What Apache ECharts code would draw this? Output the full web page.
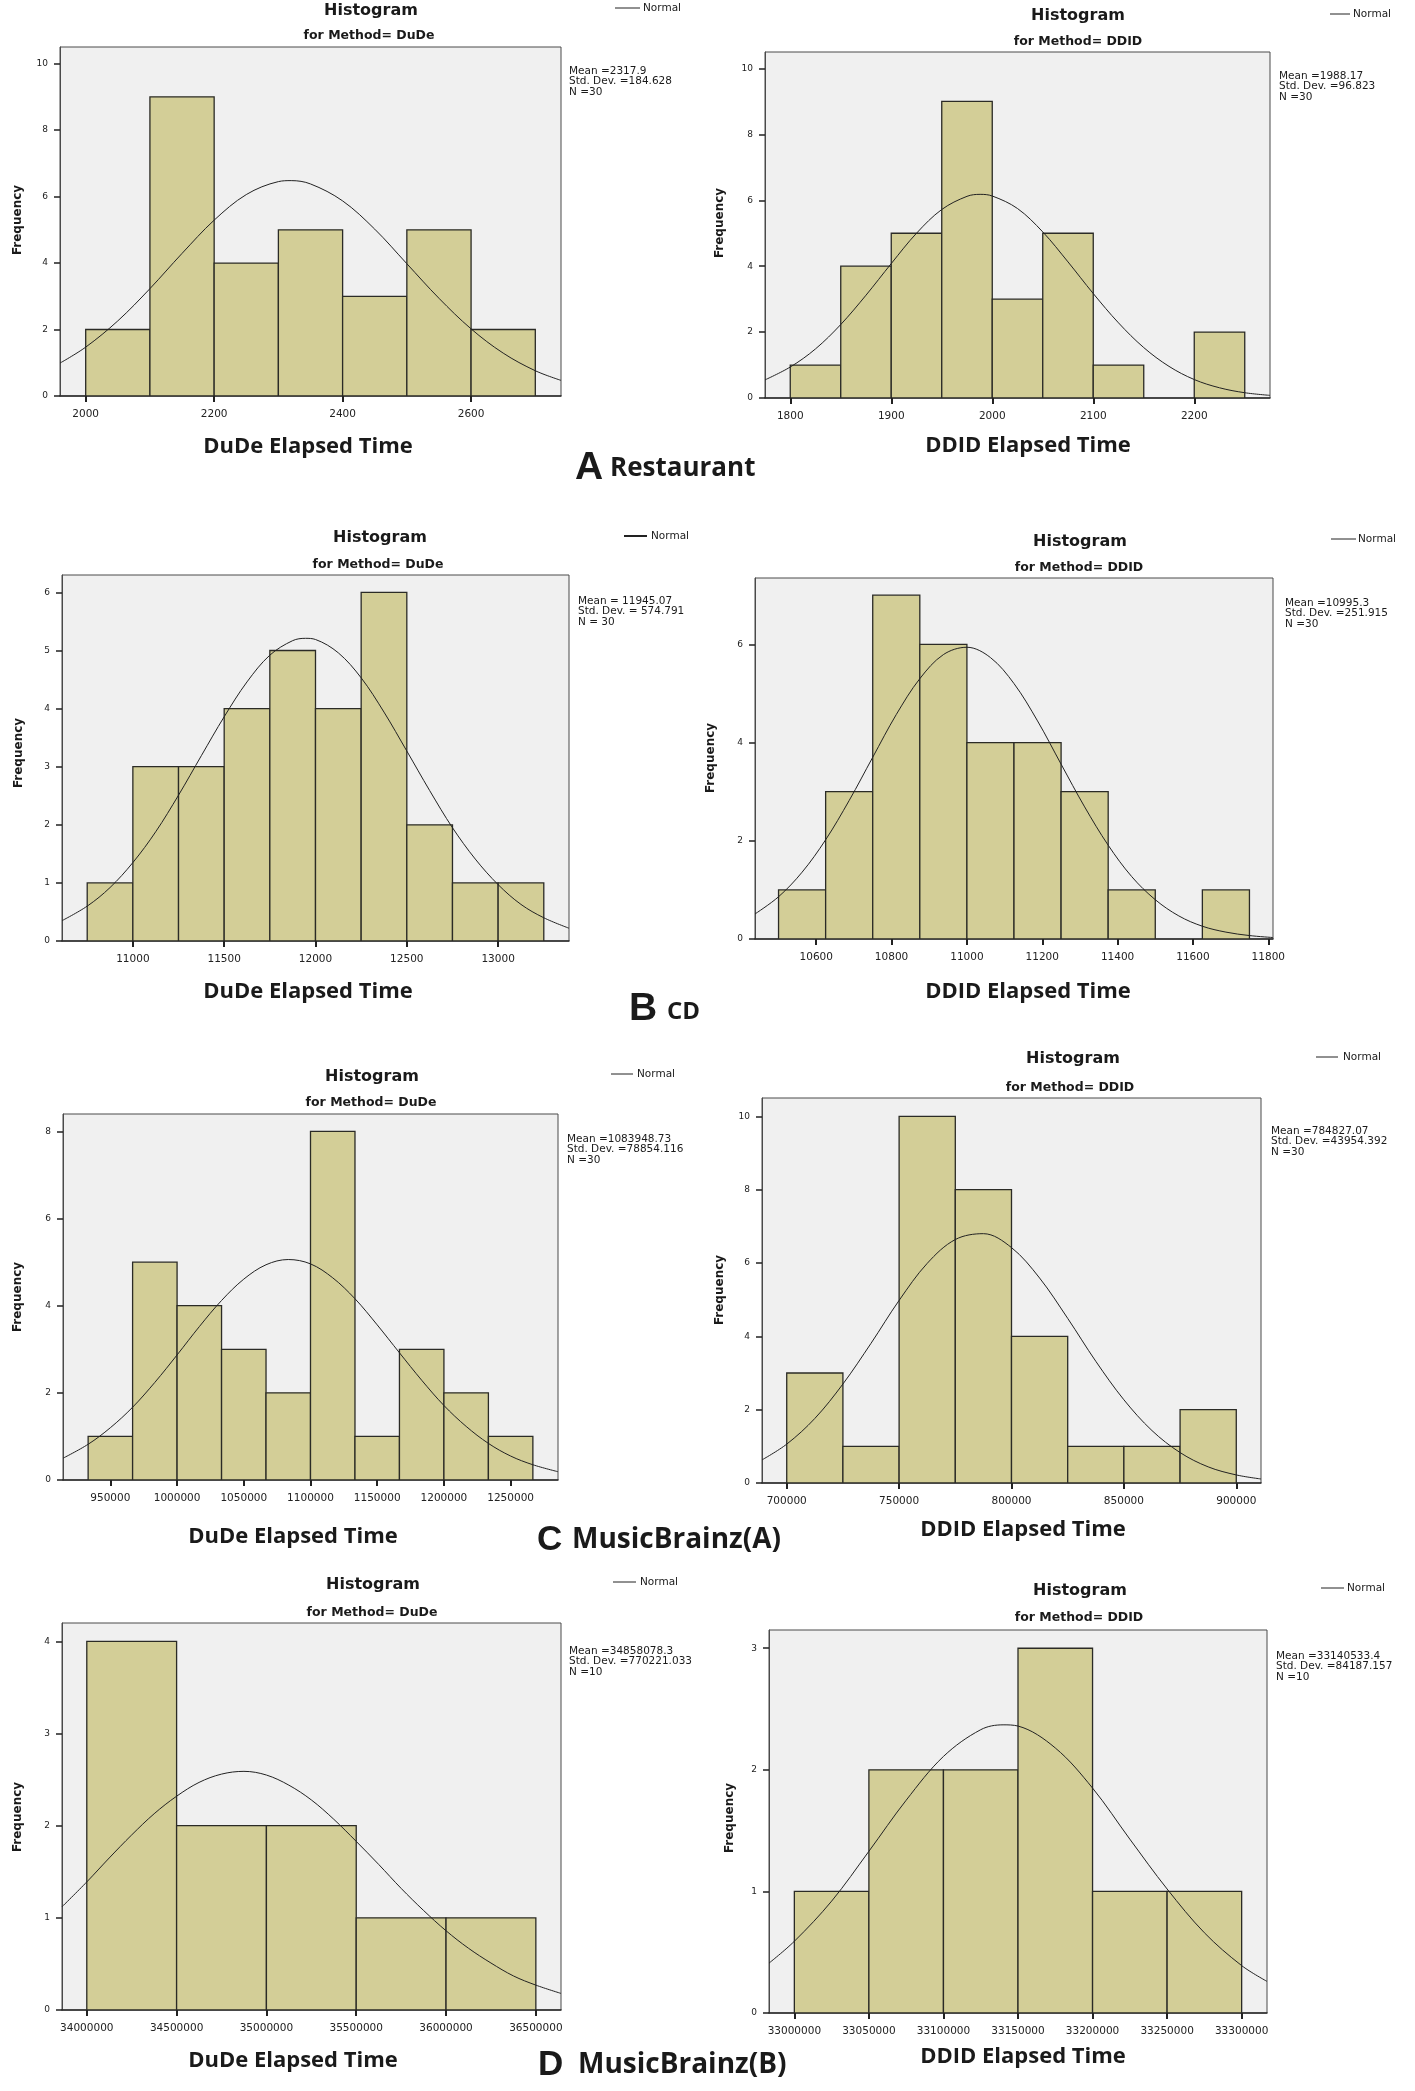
<!DOCTYPE html>
<html><head><meta charset="utf-8">
<script src="https://cdn.jsdelivr.net/npm/echarts@6/dist/echarts.min.js"></script>
<style>html,body{margin:0;padding:0;background:#fff}#chart{width:1415px;height:2091px}</style>
</head><body><div id="chart"></div>
<script>
// ---------------- DATA ----------------
// A Restaurant
const restDudeEdges = [2000, 2100, 2200, 2300, 2400, 2500, 2600, 2700];
const restDudeCounts = [2, 9, 4, 5, 3, 5, 2];
const restDudeCurveX = [1960, 2000, 2050, 2100, 2150, 2200, 2250, 2300, 2320, 2350, 2400, 2450, 2500, 2550, 2600, 2650, 2700, 2740];
const restDudeCurveY = [0.99, 1.47, 2.26, 3.23, 4.29, 5.29, 6.06, 6.45, 6.48, 6.38, 5.87, 5.02, 3.98, 2.94, 2.02, 1.29, 0.76, 0.47];
const restDudeXTicks = [2000, 2200, 2400, 2600];
const restDudeYTicks = [0, 2, 4, 6, 8, 10];
const restDudeStats = ['Mean =2317.9', 'Std. Dev. =184.628', 'N =30'];

const restDdidEdges = [1800, 1850, 1900, 1950, 2000, 2050, 2100, 2150, 2200, 2250];
const restDdidCounts = [1, 4, 5, 9, 3, 5, 1, 0, 2];
const restDdidCurveX = [1775, 1800, 1825, 1850, 1875, 1900, 1925, 1950, 1975, 1988, 2000, 2025, 2050, 2075, 2100, 2125, 2150, 2175, 2200, 2225, 2250, 2275];
const restDdidCurveY = [0.55, 0.94, 1.49, 2.23, 3.12, 4.08, 5.00, 5.72, 6.12, 6.18, 6.13, 5.75, 5.04, 4.13, 3.17, 2.28, 1.53, 0.96, 0.56, 0.31, 0.16, 0.08];
const restDdidXTicks = [1800, 1900, 2000, 2100, 2200];
const restDdidYTicks = [0, 2, 4, 6, 8, 10];
const restDdidStats = ['Mean =1988.17', 'Std. Dev. =96.823', 'N =30'];

// B CD
const cdDudeEdges = [10750, 11000, 11250, 11500, 11750, 12000, 12250, 12500, 12750, 13000, 13250];
const cdDudeCounts = [1, 3, 3, 4, 5, 4, 6, 2, 1, 1];
const cdDudeCurveX = [10612, 10750, 10875, 11000, 11125, 11250, 11375, 11500, 11625, 11750, 11875, 11945, 12000, 12125, 12250, 12375, 12500, 12625, 12750, 12875, 13000, 13125, 13250, 13388];
const cdDudeCurveY = [0.35, 0.60, 0.92, 1.35, 1.88, 2.51, 3.19, 3.86, 4.46, 4.92, 5.17, 5.21, 5.19, 4.96, 4.53, 3.94, 3.27, 2.59, 1.95, 1.41, 0.97, 0.63, 0.40, 0.22];
const cdDudeXTicks = [11000, 11500, 12000, 12500, 13000];
const cdDudeYTicks = [0, 1, 2, 3, 4, 5, 6];
const cdDudeStats = ['Mean = 11945.07', 'Std. Dev. = 574.791', 'N = 30'];

const cdDdidEdges = [10500, 10625, 10750, 10875, 11000, 11125, 11250, 11375, 11500, 11625, 11750];
const cdDdidCounts = [1, 3, 7, 6, 4, 4, 3, 1, 0, 1];
const cdDdidCurveX = [10437.5, 10500, 10562.5, 10625, 10687.5, 10750, 10812.5, 10875, 10937.5, 11000, 11062.5, 11125, 11187.5, 11250, 11312.5, 11375, 11437.5, 11500, 11562.5, 11625, 11687.5, 11750, 11812.5];
const cdDdidCurveY = [0.51, 0.86, 1.36, 2.02, 2.82, 3.70, 4.57, 5.30, 5.79, 5.94, 5.73, 5.20, 4.44, 3.56, 2.69, 1.91, 1.27, 0.80, 0.47, 0.26, 0.14, 0.07, 0.03];
const cdDdidXTicks = [10600, 10800, 11000, 11200, 11400, 11600, 11800];
const cdDdidYTicks = [0, 2, 4, 6];
const cdDdidStats = ['Mean =10995.3', 'Std. Dev. =251.915', 'N =30'];

// C MusicBrainz(A)
const mbaDudeEdges = [933333.33, 966666.67, 1000000, 1033333.33, 1066666.67, 1100000, 1133333.33, 1166666.67, 1200000, 1233333.33, 1266666.67];
const mbaDudeCounts = [1, 5, 4, 3, 2, 8, 1, 3, 2, 1];
const mbaDudeCurveX = [914500, 933333, 950000, 966667, 983333, 1000000, 1016667, 1033333, 1050000, 1066667, 1083333, 1100000, 1116667, 1133333, 1150000, 1166667, 1183333, 1200000, 1216667, 1233333, 1250000, 1266667, 1285500];
const mbaDudeCurveY = [0.50, 0.82, 1.20, 1.67, 2.24, 2.87, 3.52, 4.12, 4.61, 4.94, 5.06, 4.96, 4.64, 4.16, 3.56, 2.92, 2.29, 1.71, 1.23, 0.84, 0.55, 0.35, 0.19];
const mbaDudeXTicks = [950000, 1000000, 1050000, 1100000, 1150000, 1200000, 1250000];
const mbaDudeYTicks = [0, 2, 4, 6, 8];
const mbaDudeStats = ['Mean =1083948.73', 'Std. Dev. =78854.116', 'N =30'];

const mbaDdidEdges = [700000, 725000, 750000, 775000, 800000, 825000, 850000, 875000, 900000];
const mbaDdidCounts = [3, 1, 10, 8, 4, 1, 1, 2];
const mbaDdidCurveX = [689000, 700000, 712500, 725000, 737500, 750000, 762500, 775000, 787500, 800000, 812500, 825000, 837500, 850000, 862500, 875000, 887500, 900000, 911000];
const mbaDdidCurveY = [0.63, 1.06, 1.76, 2.70, 3.81, 4.98, 5.99, 6.64, 6.80, 6.42, 5.59, 4.49, 3.32, 2.27, 1.43, 0.83, 0.44, 0.22, 0.11];
const mbaDdidXTicks = [700000, 750000, 800000, 850000, 900000];
const mbaDdidYTicks = [0, 2, 4, 6, 8, 10];
const mbaDdidStats = ['Mean =784827.07', 'Std. Dev. =43954.392', 'N =30'];

// D MusicBrainz(B)
const mbbDudeEdges = [34000000, 34500000, 35000000, 35500000, 36000000, 36500000];
const mbbDudeCounts = [4, 2, 2, 1, 1];
const mbbDudeCurveX = [33862000, 34000000, 34125000, 34250000, 34375000, 34500000, 34625000, 34750000, 34875000, 35000000, 35125000, 35250000, 35375000, 35500000, 35625000, 35750000, 35875000, 36000000, 36125000, 36250000, 36375000, 36500000, 36640000];
const mbbDudeCurveY = [1.12, 1.39, 1.65, 1.90, 2.13, 2.32, 2.47, 2.56, 2.59, 2.55, 2.44, 2.28, 2.07, 1.83, 1.58, 1.32, 1.08, 0.86, 0.67, 0.51, 0.37, 0.27, 0.18];
const mbbDudeXTicks = [34000000, 34500000, 35000000, 35500000, 36000000, 36500000];
const mbbDudeYTicks = [0, 1, 2, 3, 4];
const mbbDudeStats = ['Mean =34858078.3', 'Std. Dev. =770221.033', 'N =10'];

const mbbDdidEdges = [33000000, 33050000, 33100000, 33150000, 33200000, 33250000, 33300000];
const mbbDdidCounts = [1, 2, 2, 3, 1, 1];
const mbbDdidCurveX = [32983000, 33000000, 33025000, 33050000, 33075000, 33100000, 33125000, 33140000, 33150000, 33175000, 33200000, 33225000, 33250000, 33275000, 33300000, 33317000];
const mbbDdidCurveY = [0.41, 0.59, 0.92, 1.33, 1.75, 2.11, 2.33, 2.37, 2.36, 2.18, 1.85, 1.43, 1.02, 0.66, 0.39, 0.26];
const mbbDdidXTicks = [33000000, 33050000, 33100000, 33150000, 33200000, 33250000, 33300000];
const mbbDdidYTicks = [0, 1, 2, 3];
const mbbDdidStats = ['Mean =33140533.4', 'Std. Dev. =84187.157', 'N =10'];

const methodDude = 'for Method= DuDe';
const methodDdid = 'for Method= DDID';
const xNameDude = 'DuDe Elapsed Time';
const xNameDdid = 'DDID Elapsed Time';

// ---------------- LAYOUT ----------------
const panels = [
  {edges: restDudeEdges, counts: restDudeCounts, cx: restDudeCurveX, cy: restDudeCurveY, xt: restDudeXTicks, yt: restDudeYTicks, stats: restDudeStats, method: methodDude, xName: xNameDude,
   xMin: 1960, xMax: 2740, yMax: 10.5, g: {left: 60, top: 47, width: 501, height: 349},
   title: [371, 11], sub: [369, 36], leg: [615, 640, 8, 643, 1], st: [569, 71], xn: [308, 447], fq: [18, 220]},
  {edges: restDdidEdges, counts: restDdidCounts, cx: restDdidCurveX, cy: restDdidCurveY, xt: restDdidXTicks, yt: restDdidYTicks, stats: restDdidStats, method: methodDdid, xName: xNameDdid,
   xMin: 1775, xMax: 2275, yMax: 10.5, g: {left: 765, top: 52, width: 505, height: 346},
   title: [1078, 16], sub: [1078, 42], leg: [1330, 1350, 14, 1353, 1], st: [1279, 76], xn: [1028, 446], fq: [720, 223]},
  {edges: cdDudeEdges, counts: cdDudeCounts, cx: cdDudeCurveX, cy: cdDudeCurveY, xt: cdDudeXTicks, yt: cdDudeYTicks, stats: cdDudeStats, method: methodDude, xName: xNameDude,
   xMin: 10612, xMax: 13388, yMax: 6.3, g: {left: 62, top: 575, width: 507, height: 366},
   title: [380, 538], sub: [378, 565], leg: [624, 647, 536, 651, 2], st: [578, 601], xn: [308, 992], fq: [19, 753]},
  {edges: cdDdidEdges, counts: cdDdidCounts, cx: cdDdidCurveX, cy: cdDdidCurveY, xt: cdDdidXTicks, yt: cdDdidYTicks, stats: cdDdidStats, method: methodDdid, xName: xNameDdid,
   xMin: 10437.5, xMax: 11812.5, yMax: 7.35, g: {left: 755, top: 578, width: 518, height: 361},
   title: [1080, 542], sub: [1079, 568], leg: [1331, 1356, 539, 1358, 1], st: [1285, 603], xn: [1028, 992], fq: [711, 758]},
  {edges: mbaDudeEdges, counts: mbaDudeCounts, cx: mbaDudeCurveX, cy: mbaDudeCurveY, xt: mbaDudeXTicks, yt: mbaDudeYTicks, stats: mbaDudeStats, method: methodDude, xName: xNameDude,
   xMin: 914500, xMax: 1285500, yMax: 8.4, g: {left: 63, top: 1114, width: 495, height: 366},
   title: [372, 1077], sub: [371, 1103], leg: [611, 633, 1074, 637, 1], st: [567, 1139], xn: [293, 1537], fq: [18, 1297]},
  {edges: mbaDdidEdges, counts: mbaDdidCounts, cx: mbaDdidCurveX, cy: mbaDdidCurveY, xt: mbaDdidXTicks, yt: mbaDdidYTicks, stats: mbaDdidStats, method: methodDdid, xName: xNameDdid,
   xMin: 689000, xMax: 911000, yMax: 10.5, g: {left: 762, top: 1098, width: 499, height: 385},
   title: [1073, 1059], sub: [1070, 1088], leg: [1316, 1338, 1057, 1343, 1], st: [1271, 1131], xn: [1023, 1530], fq: [720, 1290]},
  {edges: mbbDudeEdges, counts: mbbDudeCounts, cx: mbbDudeCurveX, cy: mbbDudeCurveY, xt: mbbDudeXTicks, yt: mbbDudeYTicks, stats: mbbDudeStats, method: methodDude, xName: xNameDude,
   xMin: 33862000, xMax: 36640000, yMax: 4.2, g: {left: 62, top: 1623, width: 499, height: 387},
   title: [373, 1585], sub: [372, 1613], leg: [613, 636, 1582, 640, 1], st: [569, 1651], xn: [293, 2061], fq: [18, 1817]},
  {edges: mbbDdidEdges, counts: mbbDdidCounts, cx: mbbDdidCurveX, cy: mbbDdidCurveY, xt: mbbDdidXTicks, yt: mbbDdidYTicks, stats: mbbDdidStats, method: methodDdid, xName: xNameDdid,
   xMin: 32983000, xMax: 33317000, yMax: 3.15, g: {left: 769, top: 1630, width: 498, height: 383},
   title: [1080, 1591], sub: [1079, 1618], leg: [1321, 1344, 1588, 1347, 1], st: [1276, 1656], xn: [1023, 2057], fq: [730, 1818]}
];

const captions = [
  {letter: 'A', name: 'Restaurant', lx: 575, ly: 468, lsize: 39, nx: 610, ny: 469, nsize: 26},
  {letter: 'B', name: 'CD', lx: 629, ly: 1009, lsize: 39, nx: 667, ny: 1012, nsize: 24},
  {letter: 'C', name: 'MusicBrainz(A)', lx: 537, ly: 1540, lsize: 35, nx: 572, ny: 1540, nsize: 28},
  {letter: 'D', name: 'MusicBrainz(B)', lx: 538, ly: 2065, lsize: 35, nx: 578, ny: 2065, nsize: 28}
];

const SANS = '"DejaVu Sans"';
const INK = '#1a1a1a';

function txt(x, y, text, font, align, valign, extra) {
  return Object.assign({
    type: 'text', x: x, y: y, silent: true,
    style: {text: text, font: font, fill: INK, textAlign: align, textVerticalAlign: valign, align: align, verticalAlign: valign}
  }, extra || {});
}

const grids = [], xAxes = [], yAxes = [], series = [], graphics = [];

panels.forEach(function (p, i) {
  grids.push(Object.assign({show: true, backgroundColor: '#f0f0f0', borderColor: '#4a4a4a', borderWidth: 1, containLabel: false}, p.g));
  xAxes.push({
    type: 'value', gridIndex: i, min: p.xMin, max: p.xMax,
    axisLine: {show: true, onZero: false, lineStyle: {color: '#2a2a2a', width: 1.5}},
    axisTick: {show: true, length: 6, customValues: p.xt, lineStyle: {color: '#222', width: 2}},
    axisLabel: {customValues: p.xt, fontFamily: 'DejaVu Sans', fontSize: 10.5, color: '#222', margin: 13, formatter: function (v) { return String(v); }},
    splitLine: {show: false}
  });
  yAxes.push({
    type: 'value', gridIndex: i, min: 0, max: p.yMax,
    axisLine: {show: true, lineStyle: {color: '#4a4a4a', width: 1}},
    axisTick: {show: true, length: 6, customValues: p.yt, lineStyle: {color: '#222', width: 1.5}},
    axisLabel: {customValues: p.yt, fontFamily: 'DejaVu Sans', fontSize: 9, color: '#222', margin: 12, formatter: function (v) { return String(v); }},
    splitLine: {show: false}
  });
  const bins = [];
  p.counts.forEach(function (c, k) { if (c > 0) bins.push([p.edges[k], p.edges[k + 1], c]); });
  series.push({
    type: 'custom', xAxisIndex: i, yAxisIndex: i, data: bins, clip: true, z: 2,
    encode: {x: [0, 1], y: 2},
    renderItem: function (params, api) {
      const a = api.coord([api.value(0), 0]);
      const b = api.coord([api.value(1), api.value(2)]);
      return {type: 'rect', shape: {x: a[0], y: b[1], width: b[0] - a[0], height: a[1] - b[1]},
        style: {fill: '#d3ce97', stroke: '#2b2b26', lineWidth: 1.3}};
    }
  });
  series.push({
    type: 'line', xAxisIndex: i, yAxisIndex: i, z: 3, smooth: 0.35, showSymbol: false, silent: true, clip: true,
    data: p.cx.map(function (x, k) { return [x, p.cy[k]]; }),
    lineStyle: {color: '#222', width: 1}
  });
  graphics.push(txt(p.title[0], p.title[1], 'Histogram', 'bold 16px ' + SANS, 'center', 'middle'));
  graphics.push(txt(p.sub[0], p.sub[1], p.method, 'bold 12.5px ' + SANS, 'center', 'middle'));
  graphics.push({type: 'line', silent: true, shape: {x1: p.leg[0], y1: p.leg[2], x2: p.leg[1], y2: p.leg[2]}, style: {stroke: '#222', lineWidth: p.leg[4]}});
  graphics.push(txt(p.leg[3], p.leg[2], 'Normal', '10.5px ' + SANS, 'left', 'middle'));
  p.stats.forEach(function (s, k) {
    graphics.push(txt(p.st[0], p.st[1] + k * 10.5, s, '10.5px ' + SANS, 'left', 'middle'));
  });
  graphics.push(txt(p.xn[0], p.xn[1], p.xName, 'bold 22px "Open Sans"', 'center', 'middle'));
  graphics.push(txt(p.fq[0], p.fq[1], 'Frequency', 'bold 12px ' + SANS, 'center', 'middle', {rotation: Math.PI / 2}));
});

captions.forEach(function (c) {
  graphics.push(txt(c.lx, c.ly, c.letter, 'bold ' + c.lsize + 'px "Liberation Sans"', 'left', 'middle'));
  graphics.push(txt(c.nx, c.ny, c.name, 'bold ' + c.nsize + 'px "Open Sans"', 'left', 'middle'));
});

const chart = echarts.init(document.getElementById('chart'), null, {renderer: 'canvas'});
chart.setOption({
  animation: false,
  backgroundColor: '#ffffff',
  grid: grids, xAxis: xAxes, yAxis: yAxes, series: series,
  graphic: {elements: graphics}
});
</script></body></html>
